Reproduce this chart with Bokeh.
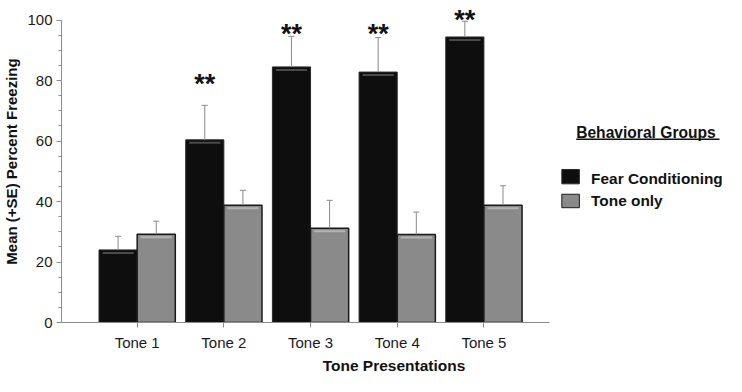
from bokeh.plotting import figure
from bokeh.models import Range1d, SingleIntervalTicker, FixedTicker
from bokeh.core.properties import value
from bokeh.embed import file_html
from bokeh.resources import INLINE

# ---- data ----
categories = ["Tone 1", "Tone 2", "Tone 3", "Tone 4", "Tone 5"]
fear = [24.0, 60.4, 84.5, 82.8, 94.4]
fear_se = [4.5, 11.4, 10.1, 11.4, 5.2]
tone_only = [29.2, 38.8, 31.2, 29.1, 38.8]
tone_only_se = [4.3, 4.9, 9.2, 7.4, 6.4]
stars = ["", "**", "**", "**", "**"]
star_y = [0.0, 78.9, 95.4, 95.4, 100.1]
series_names = ["Fear Conditioning", "Tone only"]

FONT = "Liberation Sans"
BLACK = "#0e0e0e"
GRAY = "#8a8a8a"

xs = list(range(1, len(categories) + 1))
bw = 0.44
W, H = 726, 376
LEFT = 58
Y0_PX = 323.3          # pixel row of y = 0
PX_Y = 3.034           # pixels per percent
PX_X = 87.08           # pixels per category
BOTTOM = H - 323
x0 = 1 - (134.0 - LEFT) / PX_X

p = figure(width=W, height=H, output_backend="svg", toolbar_location=None,
           x_range=Range1d(x0, x0 + (W - LEFT) / PX_X),
           y_range=Range1d(0, (H - BOTTOM) / PX_Y),
           min_border_left=LEFT, min_border_right=0, min_border_top=0, min_border_bottom=BOTTOM)
p.outline_line_color = None
p.xgrid.grid_line_color = None
p.ygrid.grid_line_color = None

# axes
AX = "#8c8c8c"
p.yaxis.ticker = SingleIntervalTicker(interval=20, num_minor_ticks=4)
p.yaxis.bounds = (0, 100)
p.yaxis.axis_line_color = AX
p.yaxis.major_tick_line_color = AX
p.yaxis.minor_tick_line_color = AX
p.yaxis.major_tick_out = 5
p.yaxis.major_tick_in = 0
p.yaxis.minor_tick_out = 3
p.yaxis.minor_tick_in = 0
p.yaxis.major_label_standoff = 4
p.yaxis.major_label_text_font = FONT
p.yaxis.major_label_text_font_size = "15px"
p.yaxis.major_label_text_color = "#1a1a1a"
p.yaxis.axis_label = "Mean (+SE) Percent Freezing"
p.yaxis.axis_label_text_font = FONT
p.yaxis.axis_label_text_font_size = "15px"
p.yaxis.axis_label_text_font_style = "bold"
p.yaxis.axis_label_text_color = "#111111"
p.yaxis.axis_label_standoff = 4

p.xaxis.ticker = FixedTicker(ticks=xs)
p.xaxis.major_label_overrides = {x: c for x, c in zip(xs, categories)}
p.xaxis.bounds = (x0, 5.753)
p.xaxis.axis_line_color = AX
p.xaxis.major_tick_line_color = AX
p.xaxis.minor_tick_line_color = None
p.xaxis.major_tick_out = 5
p.xaxis.major_tick_in = 0
p.xaxis.major_label_standoff = 6
p.xaxis.major_label_text_font = FONT
p.xaxis.major_label_text_font_size = "15px"
p.xaxis.major_label_text_color = "#1a1a1a"
p.xaxis.axis_label = "Tone Presentations"
p.xaxis.axis_label_text_font = FONT
p.xaxis.axis_label_text_font_size = "15.5px"
p.xaxis.axis_label_text_font_style = "bold"
p.xaxis.axis_label_text_color = "#111111"
p.xaxis.axis_label_standoff = 3

# bars
fx = [x - bw / 2 for x in xs]
tx = [x + bw / 2 for x in xs]
p.vbar(x=fx, top=fear, bottom=0, width=bw, fill_color=BLACK, line_color="#2a2a2a", line_width=1)
p.vbar(x=tx, top=tone_only, bottom=0, width=bw, fill_color=GRAY, line_color="#1a1a1a", line_width=1.5)

# bevel highlights near the top of each bar
inset = 0.04
p.segment(x0=[x - bw / 2 + inset for x in fx], x1=[x + bw / 2 - inset for x in fx],
          y0=[v - 1.0 for v in fear], y1=[v - 1.0 for v in fear], line_color="#4a4a4a", line_width=2)
p.segment(x0=[x - bw / 2 + inset for x in tx], x1=[x + bw / 2 - inset for x in tx],
          y0=[v - 1.0 for v in tone_only], y1=[v - 1.0 for v in tone_only], line_color="#b4b4b4", line_width=2)

# error bars (upper only)
cap = 0.035
for cx, v, se in ((fx, fear, fear_se), (tx, tone_only, tone_only_se)):
    tops = [a + b for a, b in zip(v, se)]
    p.segment(x0=cx, x1=cx, y0=v, y1=tops, line_color="#8a8a8a", line_width=1)
    p.segment(x0=[c - cap for c in cx], x1=[c + cap for c in cx], y0=tops, y1=tops,
              line_color="#8a8a8a", line_width=1)

# significance stars
p.text(x=fx, y=star_y, text=stars, text_font=value(FONT), text_font_style="bold",
       text_font_size="27px", text_align="center", text_baseline="alphabetic", text_color="#111111")

# legend (drawn manually, positioned in pixels of the figure)
def gx(px):
    return x0 + (px - LEFT) / PX_X

def gy(py):
    return (Y0_PX - py) / PX_Y

p.text(x=[gx(575)], y=[gy(132.4)], text=["Behavioral Groups"], text_font=value(FONT), text_font_style="bold",
       text_font_size="15.6px", text_align="left", text_baseline="middle", text_color="#111111")
p.segment(x0=[gx(575)], x1=[gx(719)], y0=[gy(139.5)], y1=[gy(139.5)], line_color="#111111", line_width=1.3)
p.rect(x=[gx(569.4), gx(569.4)], y=[gy(177), gy(201.4)], width=17.6 / PX_X, height=[14.4 / PX_Y, 13.5 / PX_Y],
       fill_color=[BLACK, GRAY], line_color=["#2a2a2a", "#1a1a1a"], line_width=1)
p.text(x=[gx(590), gx(590)], y=[gy(178.5), gy(201.4)], text=series_names, text_font=value(FONT),
       text_font_style="bold", text_font_size="15.4px", text_align="left", text_baseline="middle",
       text_color="#111111")

open("out.html", "w").write(file_html(p, INLINE))
